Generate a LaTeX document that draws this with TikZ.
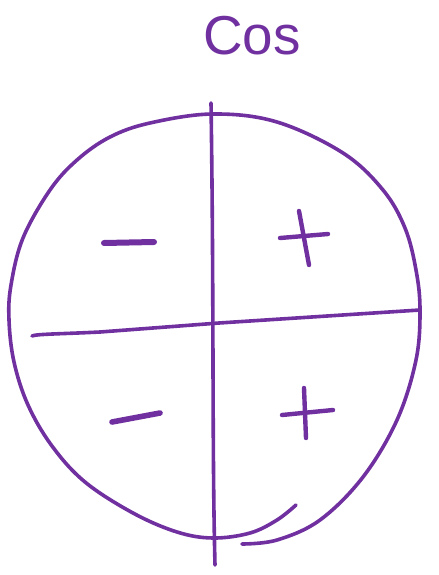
\documentclass[tikz,border=0pt]{standalone}
\usepackage{fontspec}
\setsansfont{Liberation Sans}
\usepackage{tikz}
\definecolor{mypurple}{RGB}{112,48,160}

\begin{document}
\begin{tikzpicture}[x=0.5mm, y=-0.5mm,
        pen/.style={mypurple, line width=2.2mm, line cap=round, line join=round},
        thinpen/.style={mypurple, line width=1.8mm, line cap=round, line join=round},
        font=\sffamily]
        % Bildbereich
        \useasboundingbox (0,0) rectangle (438,575);
        % Titel
        \node[mypurple, font=\sffamily\fontsize{78}{78}\selectfont, anchor=base] (title) at (252,55) {Cos};
        % Kreis
        \draw[thinpen] plot[smooth, tension=0.6] coordinates {(242,544) (277,540) (320,520) (363,477)
            (397,420) (416,360) (420,310) (416,270) (405,228) (383,190) (343,153) (277,122) (213,114)
            (150,123) (110,137) (77,160) (50,190) (23,238) (11,285) (9,320) (14,362) (28,405) (52,446) (85,482)
            (133,513) (177,532) (213,538) (250,533) (277,520) (296,505)};
        % Achsen
        \draw[thinpen] (211,103) .. controls (214,300) and (212,450) .. (215,565);
        \draw[thinpen] (32,336) .. controls (36,334) and (60,334) .. (100,332) -- (219,323) -- (420,310);
        % Vorzeichen
        \draw[pen, line width=3mm] (104,243) -- (154,242);
        \draw[pen, line width=2.8mm] (112,422) -- (160,413);
        \draw[pen] (280,238) -- (328,234);
        \draw[pen] (299,211) -- (309,265);
        \draw[pen] (282,415) -- (333,410);
        \draw[pen] (304,388) -- (306,438);
\end{tikzpicture}
\end{document}
